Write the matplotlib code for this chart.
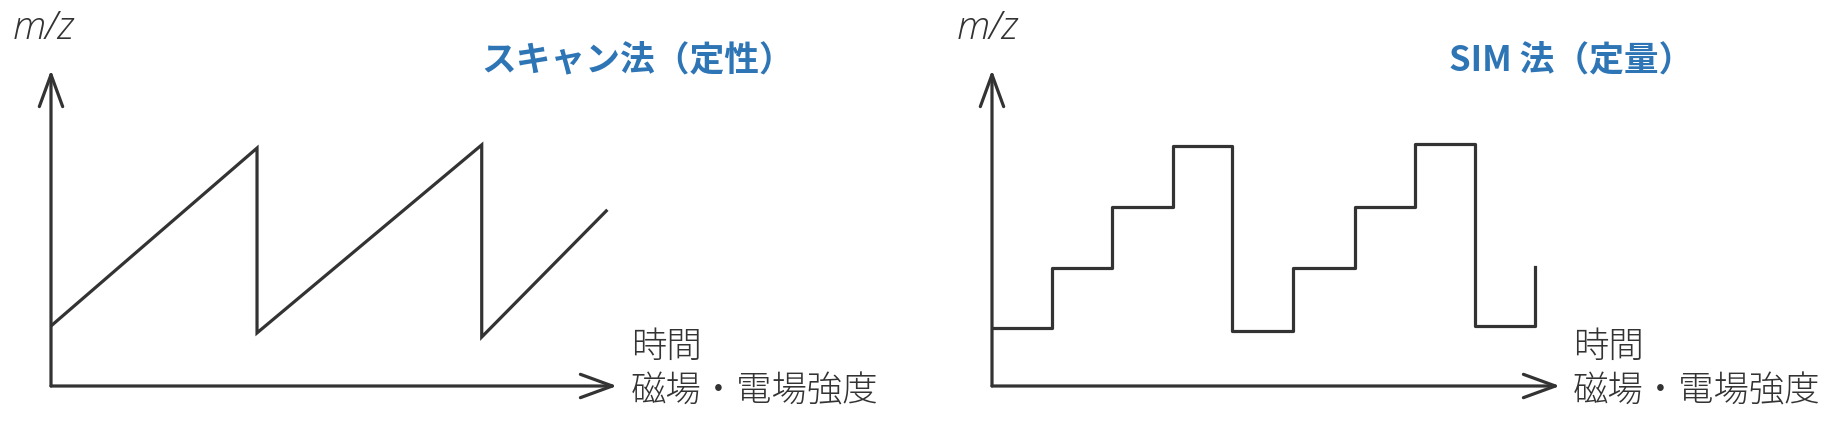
import matplotlib
matplotlib.use('Agg')
from matplotlib import pyplot as plt

W, H = 1826, 428
LINE_COLOR = '#333333'
TITLE_COLOR = '#2e75b6'
LINE_WIDTH = 2.3
JP_FONT = ['Noto Sans CJK JP', 'DejaVu Sans']

# scan mode: sawtooth sweep (time vs. m/z, arbitrary units 0..10)
scan_time = [0, 3.64, 3.64, 7.61, 7.61, 9.81]
scan_mz = [1.9, 7.53, 1.68, 7.63, 1.55, 5.54]

# SIM mode: stepwise selected ions
sim_time = [0, 1.06, 2.11, 3.19, 4.23, 5.30, 6.39, 7.45, 8.50, 9.56]
sim_mz = [1.84, 3.73, 5.66, 7.59, 1.74, 3.73, 5.66, 7.66, 1.90, 3.77]

titles = ["スキャン法（定性）", "SIM 法（定量）"]
y_label = "m/z"
x_label_top = "時間"
x_label_bottom = "磁場・電場強度"


def fig_xy(x, y):
    return x / W, 1 - y / H


def draw_axes_arrows(ax):
    arrow = dict(arrowstyle='->,head_length=1.15,head_width=0.42', color=LINE_COLOR,
                 lw=LINE_WIDTH, shrinkA=0, shrinkB=0, mutation_scale=20)
    ax.annotate('', xy=(1, 0), xytext=(0, 0), xycoords='axes fraction', arrowprops=arrow)
    ax.annotate('', xy=(0, 1), xytext=(0, 0), xycoords='axes fraction', arrowprops=arrow)


def setup_axes(fig, origin_x, length_x):
    left, bottom = fig_xy(origin_x, 386)
    ax = fig.add_axes([left, bottom, length_x / W, 316 / H])
    ax.set_xlim(0, 10)
    ax.set_ylim(0, 10)
    ax.axis('off')
    draw_axes_arrows(ax)
    return ax


def add_labels(fig, mz_x, title_x, title, xlab_x):
    fig.text(*fig_xy(mz_x, 29), y_label, fontsize=28, style='italic', color=LINE_COLOR,
             family='Open Sans', weight='light', va='center', ha='left')
    fig.text(*fig_xy(title_x, 60), title, fontsize=25, weight='bold', color=TITLE_COLOR,
             family=JP_FONT, va='center', ha='left')
    fig.text(*fig_xy(xlab_x, 347), x_label_top, fontsize=25.5, color=LINE_COLOR,
             family=JP_FONT, weight='light', va='center', ha='left')
    fig.text(*fig_xy(xlab_x, 391), x_label_bottom, fontsize=25.5, color=LINE_COLOR,
             family=JP_FONT, weight='light', va='center', ha='left')


fig = plt.figure(figsize=(W / 100, H / 100), dpi=100)

ax_scan = setup_axes(fig, 51, 566)
ax_scan.plot(scan_time, scan_mz, color=LINE_COLOR, lw=LINE_WIDTH, solid_joinstyle='miter')
add_labels(fig, 13, 481, titles[0], 631)

ax_sim = setup_axes(fig, 992, 568)
ax_sim.step(sim_time, sim_mz, where='post', color=LINE_COLOR, lw=LINE_WIDTH)
add_labels(fig, 957, 1449, titles[1], 1573)

plt.savefig('out.png', dpi=100, facecolor='white')
